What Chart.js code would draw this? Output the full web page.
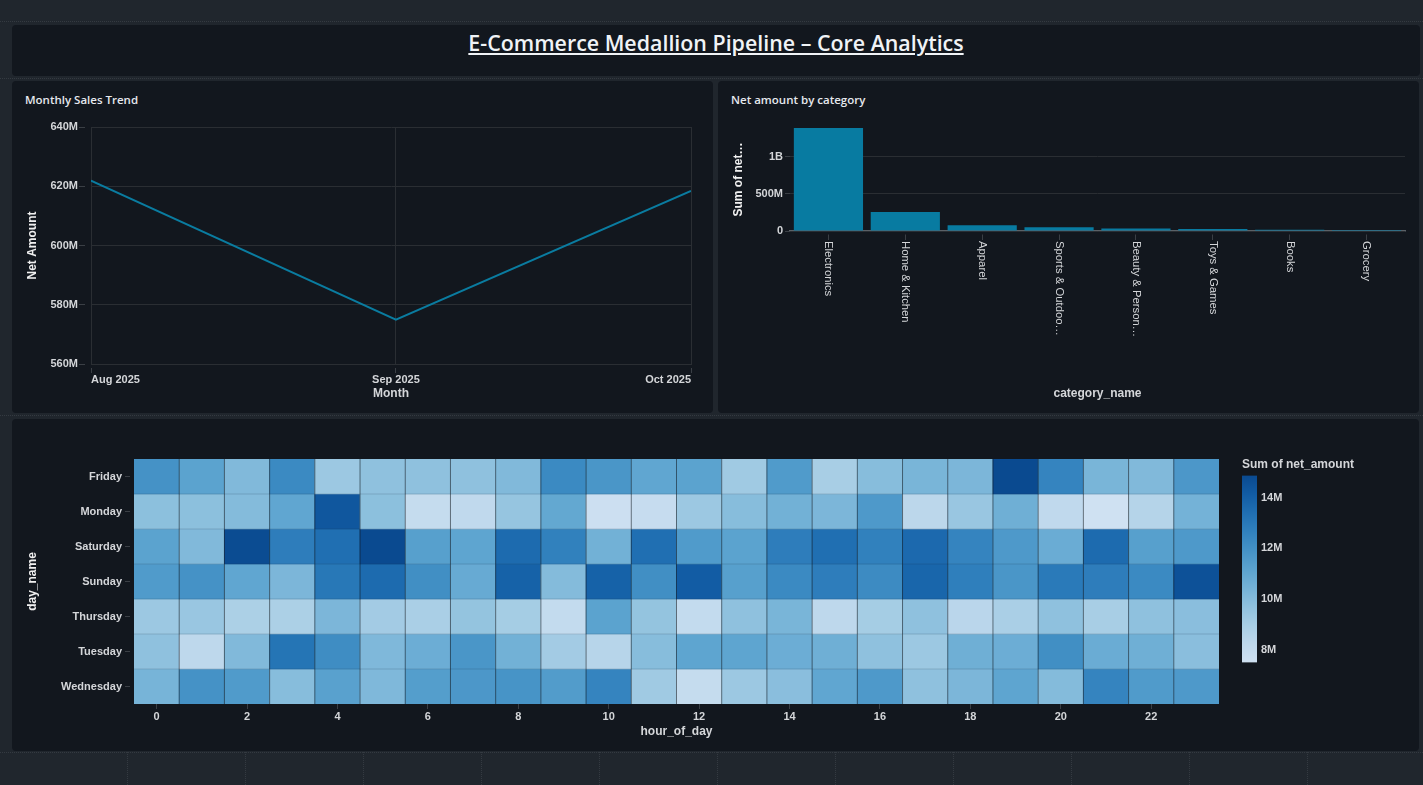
<!DOCTYPE html>
<html><head><meta charset="utf-8">
<script src="https://cdn.jsdelivr.net/npm/chart.js@4/dist/chart.umd.min.js"></script>
<style>
html,body{margin:0;padding:0;width:1423px;height:785px;overflow:hidden;background:#20262d;}
.hl{position:absolute;left:0;width:1423px;height:0;border-top:1px dotted #343a41;}
.vl{position:absolute;top:752px;height:33px;width:0;border-left:1px dotted #343a41;}
.panel{position:absolute;background:#12171e;border-radius:4px;}
.ptitle{position:absolute;font-family:"Open Sans",sans-serif;font-weight:600;font-size:11.5px;color:#e6e9ee;white-space:nowrap;}
canvas{position:absolute;}
#title{position:absolute;left:12px;top:24px;width:1408px;text-align:center;font-family:"Open Sans",sans-serif;font-weight:600;font-size:21.4px;line-height:38px;color:#f0f3f6;text-decoration:underline;white-space:nowrap;}
#cbt{position:absolute;left:1242px;top:457px;font-family:"Liberation Sans",sans-serif;font-weight:700;font-size:12px;color:#d4d6d9;white-space:nowrap;}
</style></head><body>
<div class="hl" style="top:21px"></div><div class="hl" style="top:78px"></div><div class="hl" style="top:415px"></div><div class="hl" style="top:752px"></div>
<div class="vl" style="left:127px"></div><div class="vl" style="left:245px"></div><div class="vl" style="left:363px"></div><div class="vl" style="left:481px"></div><div class="vl" style="left:599px"></div><div class="vl" style="left:717px"></div><div class="vl" style="left:835px"></div><div class="vl" style="left:953px"></div><div class="vl" style="left:1071px"></div><div class="vl" style="left:1189px"></div><div class="vl" style="left:1307px"></div>
<div class="panel" style="left:12px;top:25px;width:1408px;height:51px"></div>
<div class="panel" style="left:12px;top:81px;width:701px;height:332px"></div>
<div class="panel" style="left:718px;top:81px;width:701px;height:332px"></div>
<div class="panel" style="left:12px;top:419px;width:1407px;height:332px"></div>
<div id="title">E-Commerce Medallion Pipeline – Core Analytics</div>
<div class="ptitle" style="left:25px;top:92px">Monthly Sales Trend</div>
<div class="ptitle" style="left:731px;top:92px">Net amount by category</div>
<canvas id="line" style="left:12px;top:81px;width:701px;height:332px"></canvas>
<canvas id="bar" style="left:718px;top:81px;width:701px;height:332px"></canvas>
<canvas id="heat" style="left:12px;top:419px;width:1210px;height:332px"></canvas>
<canvas id="cbar" style="left:1232px;top:465px;width:80px;height:208px"></canvas>
<div id="cbt">Sum of net_amount</div>
<script>
// ---------- data ----------
const months = ['Aug 2025','Sep 2025','Oct 2025'];
const monthStarts = [Date.UTC(2025,7,1), Date.UTC(2025,8,1), Date.UTC(2025,9,1)];
const monthlyNet = [621.9e6, 575.0e6, 618.4e6];
const lineTicks = [560e6,580e6,600e6,620e6,640e6];

const categories = ['Electronics','Home & Kitchen','Apparel','Sports & Outdoo…','Beauty & Person…','Toys & Games','Books','Grocery'];
const categoryNet = [1387e6, 257e6, 77e6, 50e6, 32e6, 27e6, 18e6, 13e6];
const barTicks = [0, 500e6, 1000e6];

const hours = ['0','1','2','3','4','5','6','7','8','9','10','11','12','13','14','15','16','17','18','19','20','21','22','23'];
const days = ['Friday','Monday','Saturday','Sunday','Thursday','Tuesday','Wednesday'];
const friday    = [11.92,11.19,10.08,12.29,9.34,9.71,9.71,9.71,10.08,12.29,11.77,11.04,11.19,9.20,11.55,8.97,9.93,10.30,10.23,14.87,12.51,10.30,10.08,11.70];
const monday    = [9.78,9.78,10.00,11.04,14.35,9.78,7.94,8.16,9.49,10.96,7.65,7.87,9.34,9.93,10.52,10.23,11.63,8.31,9.42,10.60,8.16,7.50,8.53,10.45];
const saturday  = [11.19,10.08,14.80,12.81,13.40,14.87,11.33,11.11,13.54,12.66,10.52,13.40,11.55,11.19,12.81,13.40,12.66,13.62,12.51,11.63,10.74,13.54,11.33,11.63];
const sunday    = [11.55,11.92,11.04,10.23,13.03,13.54,12.07,10.82,13.91,10.00,13.91,12.07,14.13,11.33,12.29,12.81,12.22,13.76,12.73,11.77,12.95,12.81,12.29,14.58];
const thursday  = [9.34,9.42,8.83,8.83,10.23,9.12,8.90,9.56,9.05,8.02,11.19,9.56,8.02,9.71,10.30,8.24,9.05,9.71,8.38,8.90,9.71,8.97,9.71,9.86];
const tuesday   = [9.71,8.24,10.08,13.17,12.14,10.15,10.67,11.77,10.52,9.12,8.46,9.93,11.11,11.11,10.67,10.60,9.71,9.34,10.60,10.67,12.07,10.74,10.60,9.86];
const wednesday = [10.37,11.92,11.55,9.93,11.26,10.15,11.41,11.70,11.85,11.48,12.51,9.20,7.94,9.34,9.86,11.04,11.63,9.71,10.23,11.11,10.00,12.51,11.55,11.63];
const heatRows = [friday,monday,saturday,sunday,thursday,tuesday,wednesday];
const colorTicks = [8,10,12,14];
const colorMin = 7.5, colorMax = 14.87;
const blues = ['#cfe1f2','#bed8ec','#a8cee5','#8fc1de','#74b2d7','#5ba3cf','#4592c6','#3181bd','#206fb2','#125ca4','#0a4a90'];

// ---------- helpers ----------
const FF = '"Liberation Sans", Arial, sans-serif';
const tickFont = {family:FF,size:11,weight:'700'};
const titleFont = {family:FF,size:12,weight:'700'};
const tickCol = '#d4d6d9', gridCol = '#2a2e33', markCol = '#3a3f45';
Chart.defaults.animation = false;
Chart.defaults.responsive = false;
Chart.defaults.devicePixelRatio = 1;
const hex = h => [1,3,5].map(i=>parseInt(h.substr(i,2),16));
function colorFor(v){
  const t = Math.max(0,Math.min(1,(v-colorMin)/(colorMax-colorMin)))*(blues.length-1);
  const i = Math.min(blues.length-2,Math.floor(t)), f = t-i;
  const a = hex(blues[i]), b = hex(blues[i+1]);
  return 'rgb('+a.map((c,k)=>Math.round(c+(b[k]-c)*f)).join(',')+')';
}
const fmt = v => v>=1e9 ? (v/1e9)+'B' : v>=1e6 ? (v/1e6)+'M' : String(v);
function size(id){const c=document.getElementById(id);c.width=parseInt(c.style.width);c.height=parseInt(c.style.height);return c;}

// ---------- line ----------
new Chart(size('line'),{type:'line',
 data:{datasets:[{data:monthStarts.map((m,i)=>({x:m,y:monthlyNet[i]})),borderColor:'#0a7ca0',borderWidth:2,pointRadius:0,tension:0,fill:false}]},
 options:{responsive:false,plugins:{legend:{display:false},tooltip:{enabled:false}},
  layout:{padding:{left:13,right:22,top:46,bottom:12}},
  scales:{
   x:{type:'linear',min:monthStarts[0],max:monthStarts[2],afterBuildTicks:s=>{s.ticks=monthStarts.map(v=>({value:v}));},
      grid:{color:gridCol,tickLength:9,tickColor:markCol,tickBorderDash:[0,3,6,100]},border:{color:gridCol},
      ticks:{font:tickFont,color:tickCol,align:'inner',maxRotation:0,padding:0,callback:(v,i)=>months[i]},
      title:{display:true,text:'Month',font:titleFont,color:tickCol,padding:0},
      afterFit:s=>{s.height=37;}},
   y:{min:560e6,max:640e6,afterBuildTicks:s=>{s.ticks=lineTicks.map(v=>({value:v}));},
      grid:{color:gridCol,tickLength:12,tickColor:markCol,tickBorderDash:[6,6]},border:{color:gridCol},
      ticks:{font:tickFont,color:tickCol,callback:fmt,padding:1},
      title:{display:true,text:'Net Amount',font:titleFont,color:'#f0f0f0',padding:0},
      afterFit:s=>{s.width=66;}}
  }}});

// ---------- bars ----------
const verticalLabels = {id:'verticalLabels',afterDraw(chart){
  const x = chart.scales.x, c = chart.ctx;
  c.save();c.fillStyle=tickCol;c.font='400 11.3px '+FF;c.textAlign='left';c.textBaseline='middle';
  categories.forEach((t,i)=>{c.save();c.translate(x.getPixelForTick(i),x.top+10);c.rotate(Math.PI/2);c.fillText(t,0,0);c.restore();});
  c.restore();
}};
new Chart(size('bar'),{type:'bar',plugins:[verticalLabels],
 data:{labels:categories,datasets:[{data:categoryNet,backgroundColor:'#087ba1',barPercentage:0.9,categoryPercentage:1}]},
 options:{responsive:false,plugins:{legend:{display:false},tooltip:{enabled:false}},
  layout:{padding:{left:13,right:14,top:47,bottom:12}},
  scales:{
   x:{grid:{offset:false,drawOnChartArea:false,tickLength:9,tickColor:markCol,tickBorderDash:[0,3,6,100]},border:{color:'#5b6167',width:1.5,z:-1},
      ticks:{display:false},
      title:{display:true,text:'category_name',font:titleFont,color:tickCol,padding:0},
      afterFit:s=>{s.height=170;}},
   y:{min:0,max:1387e6,afterBuildTicks:s=>{s.ticks=barTicks.map(v=>({value:v}));},
      grid:{color:gridCol,tickLength:5,tickColor:markCol},border:{display:false},
      ticks:{font:tickFont,color:tickCol,callback:fmt,padding:2},
      title:{display:true,text:'Sum of net…',font:titleFont,color:'#f0f0f0',padding:0},
      afterFit:s=>{s.width=59;}}
  }}});

// ---------- heatmap ----------
const cellLines = {id:'cellLines',afterDatasetsDraw(chart){
  const {x,y} = chart.scales, a = chart.chartArea, c = chart.ctx;
  c.save();c.lineWidth=1;
  c.strokeStyle='rgba(20,45,70,0.18)';
  days.slice(1).forEach((d,i)=>{const p=y.getPixelForValue(i+0.5);c.beginPath();c.moveTo(a.left,p);c.lineTo(a.right,p);c.stroke();});
  c.strokeStyle='rgba(18,23,30,0.55)';
  hours.slice(1).forEach((h,i)=>{const p=(x.getPixelForValue(i)+x.getPixelForValue(i+1))/2;c.beginPath();c.moveTo(p,a.top);c.lineTo(p,a.bottom);c.stroke();});
  c.restore();
}};
new Chart(size('heat'),{type:'bar',plugins:[cellLines],
 data:{labels:hours,datasets:heatRows.map((row,r)=>({
   label:days[r],
   data:row.map((v,h)=>({x:hours[h],y:[r-0.5,r+0.5],v})),
   backgroundColor:row.map(colorFor),borderWidth:0,barPercentage:1,categoryPercentage:1,grouped:false}))},
 options:{responsive:false,plugins:{legend:{display:false},tooltip:{enabled:false}},
  layout:{padding:{left:13,right:3,top:40,bottom:12}},
  scales:{
   x:{offset:true,afterBuildTicks:s=>{s.ticks=s.ticks.filter(t=>t.value%2===0);},
      grid:{offset:false,drawOnChartArea:false,tickLength:5,tickColor:markCol},border:{display:false},
      ticks:{font:tickFont,color:tickCol,autoSkip:false,maxRotation:0,padding:1},
      title:{display:true,text:'hour_of_day',font:titleFont,color:tickCol,padding:0},
      afterFit:s=>{s.height=35;}},
   y:{reverse:true,min:-0.5,max:6.5,afterBuildTicks:s=>{s.ticks=days.map((d,i)=>({value:i}));},
      grid:{drawOnChartArea:false,tickLength:9,tickColor:markCol,tickBorderDash:[5,4]},border:{display:false},
      ticks:{font:tickFont,color:tickCol,callback:v=>days[v],padding:3},
      title:{display:true,text:'day_name',font:titleFont,color:'#f0f0f0',padding:0},
      afterFit:s=>{s.width=109;}}
  }}});

// ---------- colour bar ----------
new Chart(size('cbar'),{type:'bar',
 data:{labels:['Sum of net_amount'],datasets:[{data:[[colorMin,colorMax]],barPercentage:1,categoryPercentage:1,
   backgroundColor(ctx){
     const a = ctx.chart.chartArea; if(!a) return blues[5];
     const g = ctx.chart.ctx.createLinearGradient(0,a.bottom,0,a.top);
     blues.forEach((b,i)=>g.addColorStop(i/(blues.length-1),b));
     return g;
   }}]},
 options:{responsive:false,plugins:{legend:{display:false},tooltip:{enabled:false}},
  layout:{padding:{left:10,right:0,top:10,bottom:10}},
  scales:{
   x:{display:false},
   y:{position:'right',min:colorMin,max:colorMax,afterBuildTicks:s=>{s.ticks=colorTicks.map(v=>({value:v}));},
      grid:{display:false,drawTicks:false},border:{display:false},
      ticks:{font:tickFont,color:tickCol,callback:v=>v+'M',padding:4},
      afterFit:s=>{s.width=55;}}
  }}});
</script>
</body></html>
